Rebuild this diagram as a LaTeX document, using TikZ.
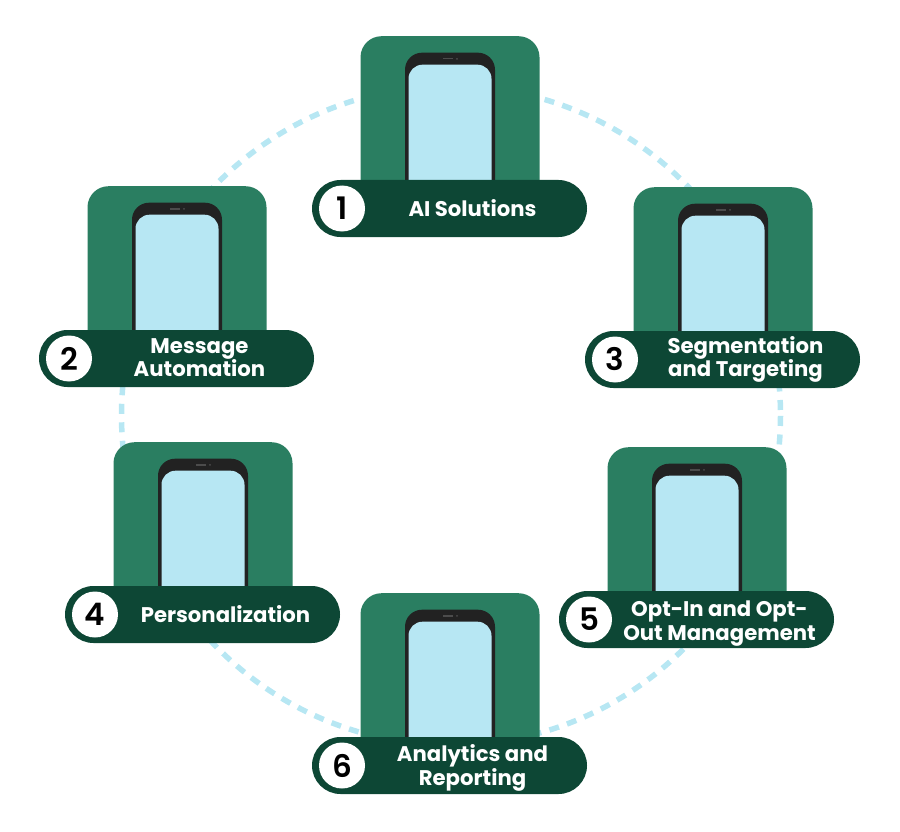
\documentclass[tikz,border=0pt]{standalone}
\usepackage{fontspec}
\setmainfont{Poppins}
\newfontfamily\numfont{Poppins SemiBold}
\definecolor{cardgreen}{HTML}{2A7E61}
\definecolor{pillgreen}{HTML}{0D4735}
\definecolor{screenblue}{HTML}{B7E7F3}
\definecolor{phoneblack}{HTML}{222222}
\tikzset{
    cardbox/.style={fill=cardgreen, rounded corners=21pt, minimum width=179pt, minimum height=170pt, anchor=north},
    phonebox/.style={fill=phoneblack, rounded corners=17pt, minimum width=90pt, minimum height=170pt, anchor=north},
    screenbox/.style={fill=screenblue, rounded corners=14pt, minimum width=83pt, minimum height=160pt, anchor=north},
    pillbox/.style={fill=pillgreen, rounded corners=28.5pt, minimum width=275pt, minimum height=57pt},
    numbox/.style={circle, fill=white, minimum size=46pt, inner sep=0pt, font=\fontsize{31}{31}\selectfont\numfont},
    labelbox/.style={text=white, align=center, inner sep=0pt, font=\fontsize{21.2}{23.5}\selectfont\bfseries},
}
\begin{document}
\begin{tikzpicture}[x=1pt, y=-1pt]
    \useasboundingbox (0,0) rectangle (900,832);
    \draw[screenblue, line width=5.5pt, dash pattern=on 10pt off 8.51pt, dash phase=13pt] (451,415.5) circle (329.5pt);
    \foreach \n/\x/\y/\dy/\txt in {1/449.5/208.5/-0.5/{AI Solutions},
        2/176.5/358.5/-1/{Message\\Automation},
        3/722.5/359.5/0/{Segmentation\\and Targeting},
        4/202.5/614.5/-0.5/{Personalization},
        5/696.5/619.5/4/{Opt-In and Opt-\\Out Management},
        6/449.5/765.5/2.5/{Analytics and\\Reporting}} {
        \node[cardbox] (card\n) at (\x+0.5,\y-172.5) {};
        \node[phonebox] (phone\n) at (\x+0.5,\y-156) {};
        \node[screenbox] (screen\n) at (\x+0.5,\y-144) {};
        \fill[black!70] (\x-7,\y-150.5) rectangle (\x+3.5,\y-149);
        \fill[black!70] (\x+7.5,\y-149.7) circle (1pt);
        \node[pillbox] (pill\n) at (\x,\y) {};
        \node[numbox] (num\n) at (\x-107.5,\y) {\n};
        \node[labelbox] (label\n) at (\x+23,\y+\dy) {\txt};
    }
\end{tikzpicture}
\end{document}
